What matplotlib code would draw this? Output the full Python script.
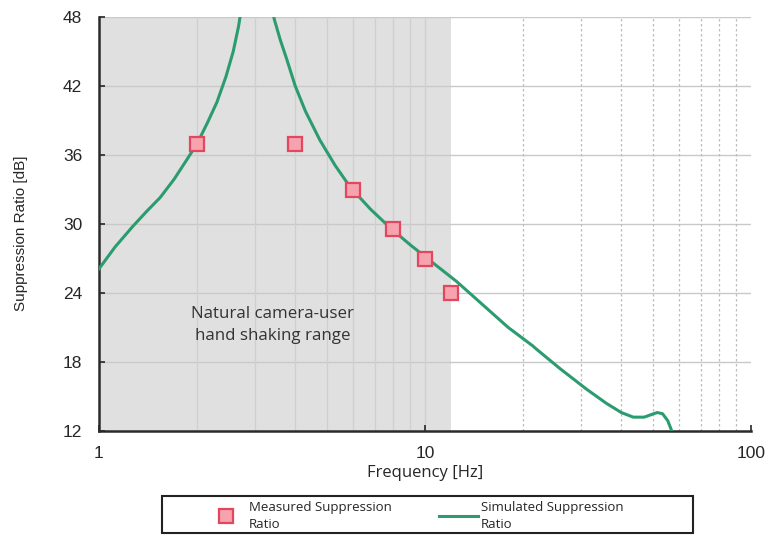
import matplotlib.pyplot as plt
from matplotlib.patches import Rectangle
from matplotlib.ticker import FixedLocator, NullFormatter

plt.rcParams['font.family'] = ['Open Sans', 'DejaVu Sans']

# measured points
meas_freq = [2, 4, 6, 8, 10, 12]
meas_db = [37.0, 37.0, 33.0, 29.6, 27.0, 24.0]

# simulated curve, left branch (rising to resonance) and right branch (falling)
sim_left_freq = [1.0, 1.12, 1.27, 1.4, 1.54, 1.7, 1.86, 2.0, 2.15, 2.3, 2.45, 2.58, 2.68, 2.76]
sim_left_db = [26.1, 28.0, 29.8, 31.1, 32.3, 33.9, 35.6, 37.0, 38.8, 40.6, 42.8, 45.0, 47.2, 49.5]
sim_right_freq = [3.35, 3.45, 3.6, 3.77, 4.0, 4.3, 4.76, 5.3, 5.9, 6.8, 7.8, 9.0, 10.6, 12.5,
                  15.0, 18.0, 21.4, 22.0, 26.0, 31.4, 36.0, 40.0, 43.5, 47.0, 51.5, 53.5, 55.5, 57.3]
sim_right_db = [49.5, 47.8, 46.0, 44.3, 42.0, 39.8, 37.3, 35.1, 33.2, 31.3, 29.7, 28.2, 26.6, 25.0,
                23.0, 21.0, 19.4, 19.1, 17.4, 15.6, 14.4, 13.6, 13.2, 13.2, 13.6, 13.5, 12.9, 11.9]

shade_range = [1, 12]
y_ticks = [12, 18, 24, 30, 36, 42, 48]

GREEN = '#2b9c6f'
TXT = '#262626'

fig = plt.figure(figsize=(7.69, 5.36), dpi=100)
ax = fig.add_axes([0.1287, 0.196, 0.848, 0.772])

ax.axvspan(shade_range[0], shade_range[1], color='#e0e0e0', zorder=0, lw=0)

ax.set_xscale('log')
ax.set_xlim(1, 100)
ax.set_ylim(12, 48)

# grid: solid horizontals, vertical minors solid inside the shade, dashed outside
for y in y_ticks[1:]:
    ax.axhline(y, color='#c9c9c9', lw=1.0, zorder=1)
minor = [m * d for d in (1, 10) for m in range(2, 10)]
for x in minor + [10]:
    style = '-' if x <= shade_range[1] else (0, (2, 2))
    col = '#cfcfcf' if x <= shade_range[1] else '#bdbdbd'
    ax.axvline(x, color=col, lw=0.9, ls=style, zorder=1)

ax.plot(sim_left_freq, sim_left_db, color=GREEN, lw=2.2, zorder=3,
        label='Simulated Suppression\nRatio')
ax.plot(sim_right_freq, sim_right_db, color=GREEN, lw=2.2, zorder=3)
ax.plot(meas_freq, meas_db, ls='none', marker='s', ms=10, mfc='#f6a3ae', mec='#e2475f',
        mew=1.6, zorder=4, label='Measured Suppression\nRatio')

ax.text(3.4, 21.2, 'Natural camera-user\nhand shaking range', ha='center', va='center',
        fontsize=12.2, color='#333333', linespacing=1.55, zorder=5)

ax.set_yticks(y_ticks)
ax.set_xticks([1, 10, 100])
ax.set_xticklabels(['1', '10', '100'])
ax.xaxis.set_minor_locator(FixedLocator(minor))
ax.xaxis.set_minor_formatter(NullFormatter())
ax.tick_params(axis='both', which='major', direction='in', length=4, width=1.2,
               labelsize=12.5, colors=TXT)
ax.tick_params(axis='y', pad=12)
ax.tick_params(axis='x', pad=11)
ax.tick_params(axis='x', which='minor', length=0)
for lbl in ax.get_xticklabels() + ax.get_yticklabels():
    lbl.set_family(['Liberation Sans', 'DejaVu Sans'])

for s in ('top', 'right'):
    ax.spines[s].set_visible(False)
for s in ('left', 'bottom'):
    ax.spines[s].set_linewidth(1.8)
    ax.spines[s].set_color('#2a2a2a')

ax.set_xlabel('Frequency [Hz]', fontsize=12, color=TXT, labelpad=3)
ax.set_ylabel('Suppression Ratio [dB]', fontsize=11, color=TXT,
              family=['Liberation Sans', 'DejaVu Sans'])
ax.yaxis.set_label_coords(-0.109, 0.478)

# legend: frame drawn by hand, entries centred inside it
fig.patches.append(Rectangle((162 / 769, 3 / 536), 531 / 769, 37 / 536,
                             transform=fig.transFigure, fill=False,
                             edgecolor='#222222', lw=1.5))
handles, labels = ax.get_legend_handles_labels()
leg = fig.legend(handles[::-1], labels[::-1], loc='center',
                 bbox_to_anchor=(415 / 769, 20 / 536), ncol=2, fontsize=9.5, frameon=False,
                 handlelength=3.0, columnspacing=3.6, handletextpad=0.2, labelspacing=0,
                 borderpad=0, labelcolor=TXT)
for t in leg.get_texts():
    t.set_linespacing(1.35)

fig.savefig('out.png', dpi=100)
